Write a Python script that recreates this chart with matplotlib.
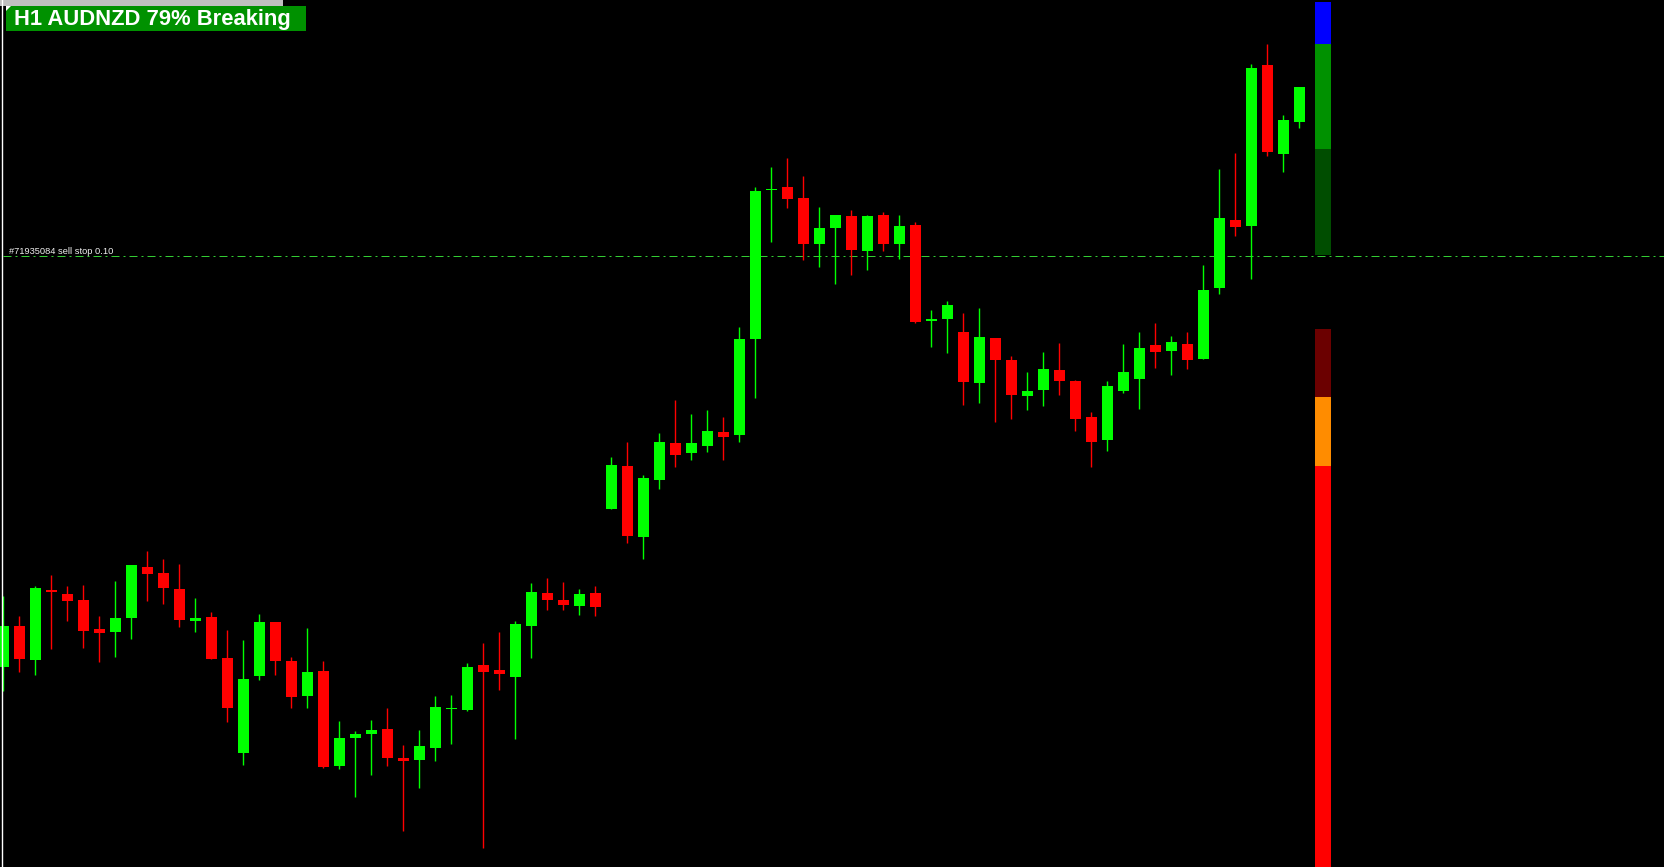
import matplotlib.pyplot as plt
from matplotlib.patches import Rectangle, Polygon

# Bougies H1 AUDNZD (niveaux, en points)
opens = [200, 241, 207, 277, 273, 267, 238, 235, 249, 300, 294, 278, 246, 250, 209, 114,
         191, 245, 206, 171, 196, 101, 129, 133, 138, 109, 107, 119, 158, 157, 202, 197,
         190, 241, 274, 267, 261, 274, 358, 401, 330, 387, 424, 414, 421, 435, 432, 528,
         677, 680, 669, 623, 639, 651, 616, 652, 623, 642, 546, 548, 535, 484, 529, 507,
         471, 477, 497, 486, 450, 427, 476, 488, 522, 516, 523, 508, 579, 647, 641, 802,
         713, 745]
closes = [241, 208, 279, 275, 266, 236, 234, 249, 302, 293, 279, 247, 249, 208, 159, 188,
          245, 206, 170, 195, 100, 129, 133, 137, 109, 106, 121, 160, 159, 200, 195, 193,
          243, 275, 267, 262, 273, 260, 402, 331, 389, 425, 412, 424, 436, 430, 528, 676,
          678, 668, 623, 639, 652, 617, 651, 623, 641, 545, 548, 562, 485, 530, 507, 472,
          476, 498, 486, 448, 425, 481, 495, 519, 515, 525, 507, 577, 649, 640, 799, 715,
          747, 780]
highs = [271, 251, 281, 292, 281, 282, 251, 286, 302, 316, 308, 303, 269, 255, 237, 227,
         253, 245, 210, 239, 206, 146, 136, 147, 159, 122, 137, 171, 172, 204, 224, 235,
         246, 284, 289, 285, 278, 281, 410, 425, 392, 434, 467, 453, 457, 450, 540, 680,
         700, 709, 691, 660, 652, 657, 652, 655, 652, 645, 557, 566, 554, 559, 529, 511,
         495, 515, 524, 487, 455, 486, 523, 535, 544, 531, 535, 602, 698, 714, 803, 823,
         752, 780]
lows = [176, 195, 192, 218, 246, 219, 205, 210, 228, 266, 263, 240, 235, 208, 145, 102,
        187, 192, 159, 159, 99, 98, 70, 92, 101, 36, 79, 106, 123, 156, 19, 177,
        128, 209, 257, 257, 252, 251, 358, 324, 308, 378, 400, 407, 415, 407, 425, 469,
        625, 659, 607, 600, 583, 592, 597, 616, 608, 544, 520, 514, 462, 464, 445, 448,
        457, 461, 472, 436, 400, 416, 474, 458, 499, 492, 498, 508, 573, 631, 588, 711,
        695, 739]

sell_stop = 611
ordre_label = '#71935084 sell stop 0.10'
titre = 'H1 AUDNZD 79% Breaking'

# Barre de force de l'indicateur (du haut vers le bas)
barre_haut = [865, 823, 718, 538, 470, 401]
barre_bas = [823, 718, 612, 470, 401, 0]
barre_couleurs = ['#0000FF', '#009100', '#004D00', '#6B0000', '#FF8C00', '#FF0000']

W, H = 1664, 867
fig = plt.figure(figsize=(W / 100, H / 100), dpi=100, facecolor='black')
ax = fig.add_axes([0, 0, 1, 1], facecolor='black')

x = list(range(len(opens)))
couleurs = ['#00FF00' if c >= o else '#FF0000' for o, c in zip(opens, closes)]
ax.vlines(x, lows, highs, colors=couleurs, linewidth=1.0, zorder=2)
corps = [max(abs(c - o), 1.5) for o, c in zip(opens, closes)]
bas = [min(o, c) for o, c in zip(opens, closes)]
ax.bar(x, corps, bottom=bas, width=0.69, color=couleurs, linewidth=0, zorder=3)

# barre verticale de l'indicateur
xb = len(opens) + 0.48
for h, b, col in zip(barre_haut, barre_bas, barre_couleurs):
    ax.bar(xb, h - b, bottom=b, width=1.0, color=col, linewidth=0, zorder=3)

# ligne de l'ordre en attente
ax.axhline(sell_stop, xmin=3 / W, color='#33CC33', linewidth=0.72,
           dashes=(8, 4, 2, 4), zorder=1)

ax.set_xlim(-3.3 / 16, (W - 3.3) / 16)
ax.set_ylim(0, H)
ax.axis('off')

# calque en pixels pour les éléments d'interface
ui = fig.add_axes([0, 0, 1, 1], facecolor='none')
ui.set_xlim(0, W)
ui.set_ylim(H, 0)
ui.axis('off')
ui.axvline(2.2, color='white', linewidth=1.0)
ui.add_patch(Rectangle((0, 0), 283, 5.5, color='#C0C0C0', linewidth=0))
ui.add_patch(Rectangle((6, 6), 300, 25, color='#009100', linewidth=0))
ui.add_patch(Polygon([(6, 6), (11, 6), (6, 11)], closed=True, color='white', linewidth=0))
ui.text(14, 19.5, titre, color='white', fontsize=15.8, fontweight='heavy',
        family='Liberation Sans', va='center', ha='left')
ui.text(9, 254, ordre_label, color='#F0F0F0', fontsize=6.7,
        family='Liberation Sans', va='baseline', ha='left')

fig.savefig('out.png', dpi=100, facecolor='black')
